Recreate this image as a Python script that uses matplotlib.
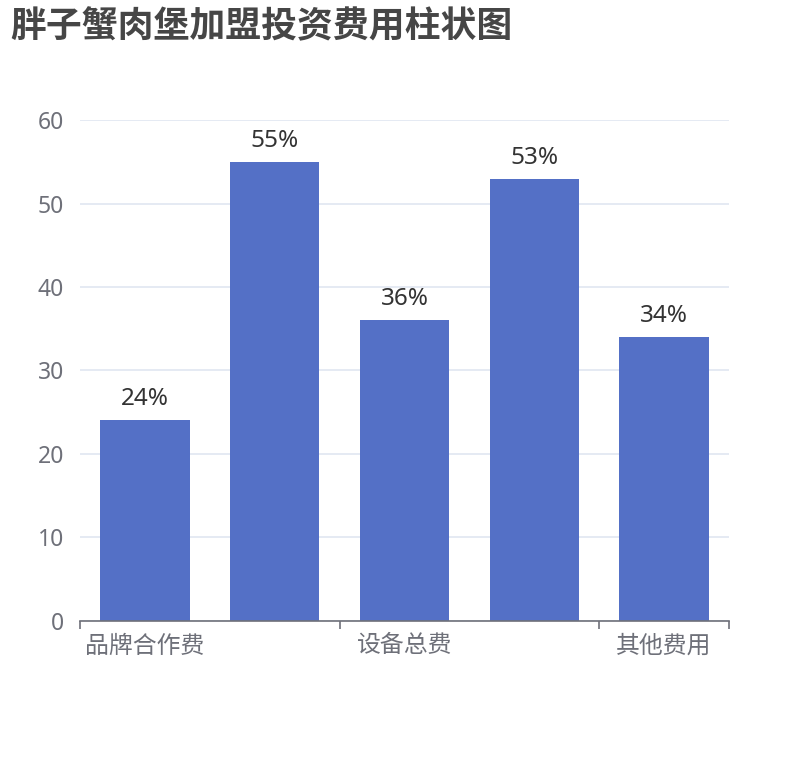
import matplotlib
matplotlib.use("Agg")
import matplotlib.pyplot as plt
import numpy as np

plt.rcParams['font.family'] = ['Noto Sans', 'Noto Sans CJK SC', 'DejaVu Sans']

title = "胖子蟹肉堡加盟投资费用柱状图"
categories = ["品牌合作费", "店面租金", "设备总费", "装修费用", "其他费用"]
values = [24, 55, 36, 53, 34]
labels = ["24%", "55%", "36%", "53%", "34%"]
yticks = [0, 10, 20, 30, 40, 50, 60]

W, H = 810, 760
fig = plt.figure(figsize=(W / 100, H / 100), dpi=100)
ax = fig.add_axes([80 / W, 1 - 620.5 / H, (729 - 80) / W, (620.5 - 120.5) / H])

x = np.arange(len(categories))
ax.bar(x, values, width=0.69, color="#5470c6", zorder=3)
ax.set_xlim(-0.5, len(categories) - 0.5)
ax.set_ylim(0, 60)

for xi, v, lab in zip(x, values, labels):
    ax.annotate(lab, (xi, v), xytext=(0, 15), textcoords="offset pixels",
                ha="center", va="baseline", fontsize=17.5, color="#333333", zorder=4)

ax.set_yticks(yticks)
ax.set_yticklabels([str(t) for t in yticks])
ax.yaxis.grid(True, color="#e0e6f1", linewidth=1.2, zorder=0)
ax.tick_params(axis="y", length=0, pad=11.5, labelsize=16.5, labelcolor="#6e7079")

# category ticks at boundaries, labels every other category
ax.set_xticks([-0.5, 1.5, 3.5, 4.5])
ax.set_xticklabels([])
ax.tick_params(axis="x", length=6, width=1.2, color="#6e7079", direction="out")
for i in range(0, len(categories), 2):
    ax.text(x[i], -0.028, categories[i], transform=ax.get_xaxis_transform(),
            ha="center", va="top", fontsize=17.2, color="#6e7079")

for s in ["top", "right", "left"]:
    ax.spines[s].set_visible(False)
ax.spines["bottom"].set_color("#6e7079")
ax.spines["bottom"].set_linewidth(1.2)
ax.spines["bottom"].set_zorder(5)

fig.text(10 / W, 1 - 28 / H, title, fontsize=25.8, fontweight="bold",
         color="#464646", ha="left", va="center")

fig.savefig("out.png", dpi=100, facecolor="white")
